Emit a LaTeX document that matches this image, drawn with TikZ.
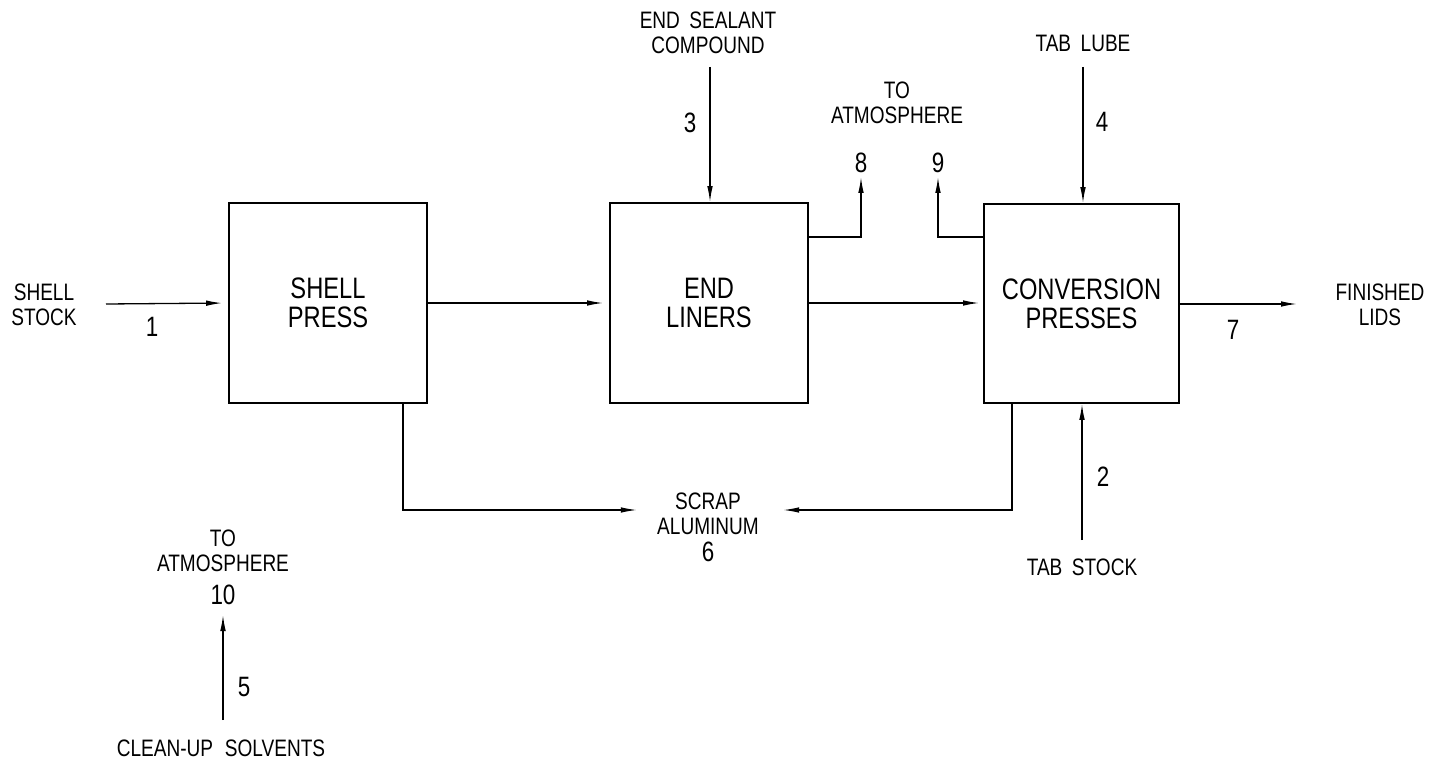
\documentclass[tikz,border=0pt]{standalone}
\usepackage{fontspec}
\setmainfont{Liberation Sans}[FakeStretch=0.8]
\usepackage{tikz}
\usetikzlibrary{arrows.meta,calc}
\newcommand{\boxfont}{\fontsize{14.8}{14.5}\selectfont}
\newcommand{\lblfont}{\fontsize{11.9}{12.5}\selectfont}
\newcommand{\numfont}{\fontsize{14}{14}\selectfont}

\begin{document}
\begin{tikzpicture}[
  x=0.5pt,y=-0.5pt,
  unit/.style={draw,line width=0.9pt,minimum width=99pt,minimum height=100pt,
               inner sep=0pt,align=center,font=\boxfont},
  lbl/.style={inner sep=0pt,align=center,font=\lblfont},
  num/.style={inner sep=0pt,font=\numfont},
  flow/.style={line width=0.65pt,-{Latex[length=8pt,width=2.8pt]}}
]
  \useasboundingbox (0,0) rectangle (1432,765);

  % process units
  \node[unit] (shell) at (328,303) {SHELL\\PRESS};
  \node[unit] (liners) at (709,303) {END\\LINERS};
  \node[unit,minimum width=97.5pt,minimum height=99.5pt] (conv) at (1081.5,303.5) {CONVERSION\\PRESSES};

  % stream texts
  \node[lbl] (shellstock) at (44,304.5) {SHELL\\STOCK};
  \node[num] (n1) at (152,327) {1};
  \node[lbl] (sealant) at (708,32.5) {END\hspace{0.4em}SEALANT\\COMPOUND};
  \node[num] (n3) at (690,123) {3};
  \node[lbl] (atmtop) at (897,102.5) {TO\\ATMOSPHERE};
  \node[num] (n8) at (861,163) {8};
  \node[num] (n9) at (938,163) {9};
  \node[lbl] (tablube) at (1083,43) {TAB\hspace{0.4em}LUBE};
  \node[num] (n4) at (1102,122) {4};
  \node[lbl] (lids) at (1380,304.5) {FINISHED\\LIDS};
  \node[num] (n7) at (1233,330) {7};
  \node[lbl] (scrap) at (708,513.5) {SCRAP\\ALUMINUM};
  \node[num] (n6) at (708,552) {6};
  \node[num] (n2) at (1103,477) {2};
  \node[lbl] (tabstock) at (1082,567) {TAB\hspace{0.4em}STOCK};
  \node[lbl] (atmbot) at (223,550.5) {TO\\ATMOSPHERE};
  \node[num] (n10) at (223,595) {10};
  \node[num] (n5) at (244,687) {5};
  \node[lbl] (solvents) at (221,748) {CLEAN-UP\hspace{0.5em}SOLVENTS};

  % free ends and bends
  \coordinate (stockin) at (106,304);
  \coordinate (lidsout) at (1297,304);
  \coordinate (sealin) at (710,67);
  \coordinate (lubein) at (1083,67);
  \coordinate (tabin) at (1082,540);
  \coordinate (v8bend) at (861,237);
  \coordinate (v8out) at (861,177);
  \coordinate (v9bend) at (938,237);
  \coordinate (v9out) at (938,177);
  \coordinate (scrapL) at (403,510);
  \coordinate (scrapR) at (1012,510);
  \coordinate (solvin) at (223,720);
  \coordinate (solvout) at (223,615);

  % main line
  \draw[flow,shorten >=3pt] (stockin) -- (shell.west);
  \draw[flow,shorten >=3pt] (shell.east) -- (liners.west);
  \draw[flow,shorten >=2pt] (liners.east) -- (liners.east -| conv.west);
  \draw[flow] (conv.east |- lidsout) -- (lidsout);

  % feeds
  \draw[flow] (sealin) -- (sealin |- liners.north);
  \draw[flow] (lubein) -- (lubein |- conv.north);
  \draw[flow] (tabin) -- (tabin |- conv.south);

  % vents
  \draw[flow] (v8bend -| liners.east) -- (v8bend) -- (v8out);
  \draw[flow] (v9bend -| conv.west) -- (v9bend) -- (v9out);
  \draw[flow] (solvin) -- (solvout);

  % scrap
  \draw[flow,shorten >=10pt] (scrapL |- shell.south) -- (scrapL) -- (scrapL -| scrap.west);
  \draw[flow,shorten >=12pt] (scrapR |- conv.south) -- (scrapR) -- (scrapR -| scrap.east);
\end{tikzpicture}
\end{document}
